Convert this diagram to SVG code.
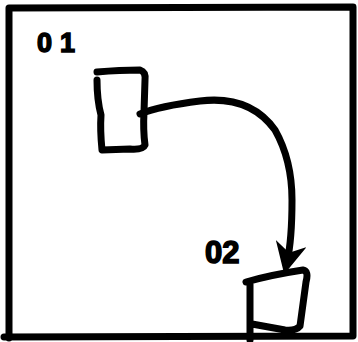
<svg xmlns="http://www.w3.org/2000/svg" width="358" height="342" viewBox="0 0 358 342">
<style>
.s{fill:none;stroke:#000;stroke-width:7;stroke-linecap:round;stroke-linejoin:round}
.t{font-family:"Liberation Sans",Arial,sans-serif;font-weight:bold;fill:#000;stroke:#000;stroke-width:1.5}
</style>
<defs>
<marker id="ah" viewBox="0 0 10 10" refX="6" refY="5" markerWidth="4.5" markerHeight="4.5" orient="auto" markerUnits="strokeWidth">
<path d="M0,0 L10,5 L0,10 L3,5 Z" fill="#000"/>
</marker>
</defs>
<rect width="358" height="342" fill="#fff"/>
<g id="frame">
<path class="s" d="M9,338 L9,8 L353,7 L353,336 L4,337"/>
</g>
<g id="n1">
<path class="s" d="M97,72 Q120,70 140,70 Q146,72 145,80 L144,112 Q143,130 145,145 Q143,150 130,149 L102,150 Q100,130 101,115 Q97,100 97,80"/>
<text class="t" x="37" y="52" font-size="27" letter-spacing="8">01</text>
</g>
<g id="n2">
<path class="s" d="M246,282 Q270,275 303,270 Q309,271 306,282 L300,326 Q296,331 285,330 L252,324 M250,284 L250,340"/>
<text class="t" x="205" y="263" font-size="31">02</text>
</g>
<g id="connectors">
<path class="s" d="M140,114 Q160,106 200,101 Q250,95 275,130 Q292,160 292,200 Q292,240 287,262" marker-end="url(#ah)"/>
</g>
</svg>
